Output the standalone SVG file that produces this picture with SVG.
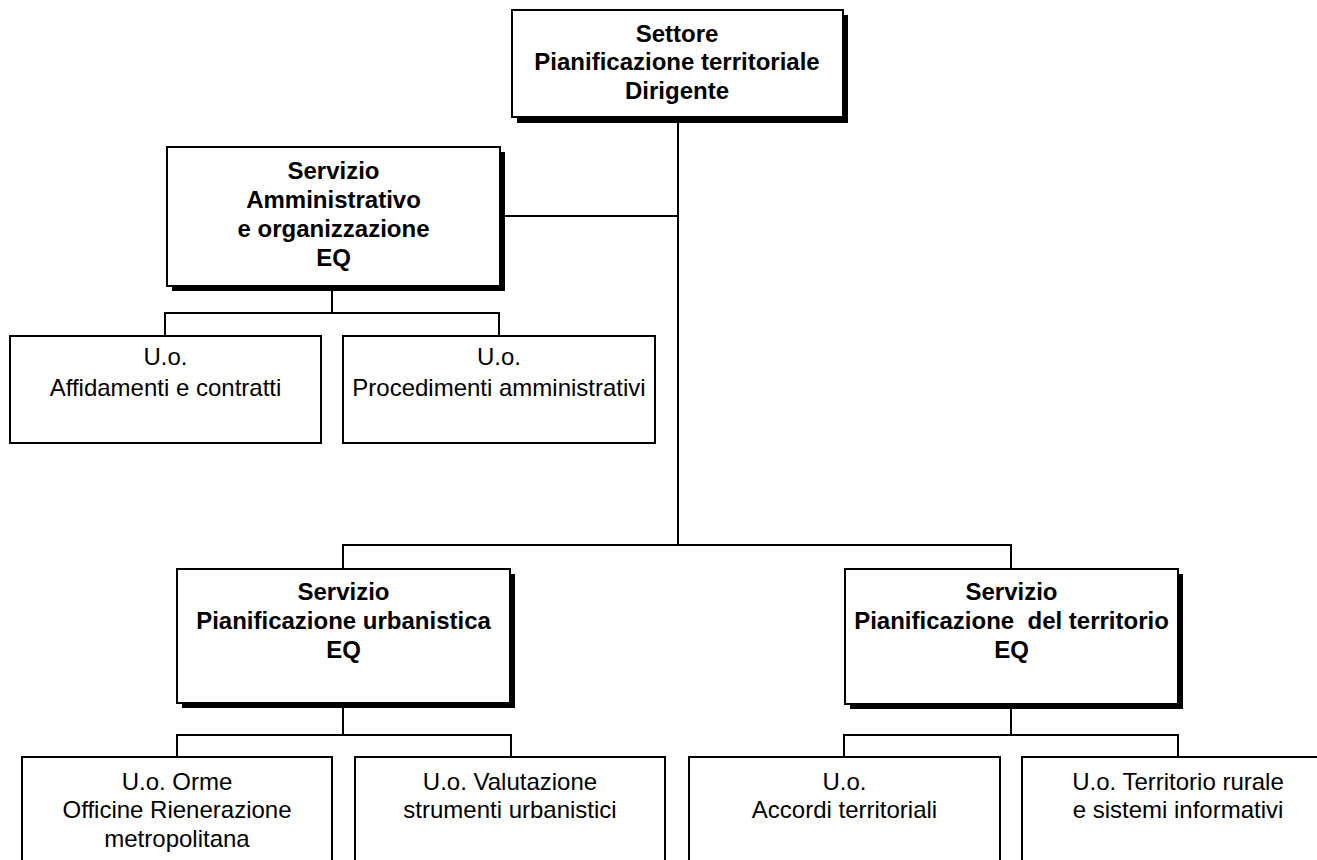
<svg xmlns="http://www.w3.org/2000/svg" width="1317" height="860" viewBox="0 0 1317 860">
<style>
.box{fill:#fff;stroke:#000;stroke-width:2}
.sh{fill:#000}
.b{font-family:"Liberation Sans",Arial,sans-serif;font-size:24px;font-weight:bold;text-anchor:middle;fill:#000}
.r{font-family:"Liberation Sans",Arial,sans-serif;font-size:24px;text-anchor:middle;fill:#000}
.c{fill:none;stroke:#000;stroke-width:2}
</style>
<rect width="1317" height="860" fill="#fff"/>
<g id="connectors">
<polyline class="c" points="678,117 678,545"/>
<polyline class="c" points="500,216 678,216"/>
<polyline class="c" points="343,569 343,545 1011,545 1011,569"/>
<polyline class="c" points="332,286 332,313"/>
<polyline class="c" points="165,336 165,313 499,313 499,336"/>
<polyline class="c" points="343,703 343,735"/>
<polyline class="c" points="177,757 177,735 511,735 511,757"/>
<polyline class="c" points="1011,704 1011,735"/>
<polyline class="c" points="844,757 844,735 1178,735 1178,757"/>
</g>
<g id="settore">
<rect class="sh" x="517" y="15" width="331" height="108"/>
<rect class="box" x="512" y="10" width="331" height="107"/>
<text class="b" x="677" y="42">Settore</text>
<text class="b" x="677" y="70">Pianificazione territoriale</text>
<text class="b" x="677" y="99">Dirigente</text>
</g>
<g id="servizio-amministrativo">
<rect class="sh" x="172" y="152" width="333" height="139"/>
<rect class="box" x="167" y="147" width="333" height="139"/>
<text class="b" x="333.5" y="179">Servizio</text>
<text class="b" x="333.5" y="208">Amministrativo</text>
<text class="b" x="333.5" y="237">e organizzazione</text>
<text class="b" x="333.5" y="266">EQ</text>
</g>
<g id="uo-affidamenti">
<rect class="box" x="10" y="336" width="311" height="107"/>
<text class="r" x="165.5" y="365">U.o.</text>
<text class="r" x="165.5" y="396">Affidamenti e contratti</text>
</g>
<g id="uo-procedimenti">
<rect class="box" x="343" y="336" width="312" height="107"/>
<text class="r" x="499" y="365">U.o.</text>
<text class="r" x="499" y="396">Procedimenti amministrativi</text>
</g>
<g id="servizio-urbanistica">
<rect class="sh" x="182" y="574" width="333" height="134"/>
<rect class="box" x="177" y="569" width="333" height="134"/>
<text class="b" x="343.5" y="600">Servizio</text>
<text class="b" x="343.5" y="629">Pianificazione urbanistica</text>
<text class="b" x="343.5" y="658">EQ</text>
</g>
<g id="servizio-territorio">
<rect class="sh" x="850" y="574" width="333" height="135"/>
<rect class="box" x="845" y="569" width="333" height="135"/>
<text class="b" x="1011.5" y="600" xml:space="preserve">Servizio</text>
<text class="b" x="1011.5" y="629" xml:space="preserve">Pianificazione  del territorio</text>
<text class="b" x="1011.5" y="658">EQ</text>
</g>
<g id="uo-orme">
<rect class="box" x="22" y="757" width="310" height="120"/>
<text class="r" x="177" y="790">U.o. Orme</text>
<text class="r" x="177" y="818">Officine Rienerazione</text>
<text class="r" x="177" y="847">metropolitana</text>
</g>
<g id="uo-valutazione">
<rect class="box" x="355" y="757" width="310" height="120"/>
<text class="r" x="510" y="790">U.o. Valutazione</text>
<text class="r" x="510" y="818">strumenti urbanistici</text>
</g>
<g id="uo-accordi">
<rect class="box" x="689" y="757" width="311" height="120"/>
<text class="r" x="844.5" y="790">U.o.</text>
<text class="r" x="844.5" y="818">Accordi territoriali</text>
</g>
<g id="uo-territorio-rurale">
<rect class="box" x="1022" y="757" width="312" height="120"/>
<text class="r" x="1178" y="790">U.o. Territorio rurale</text>
<text class="r" x="1178" y="818">e sistemi informativi</text>
</g>
</svg>
